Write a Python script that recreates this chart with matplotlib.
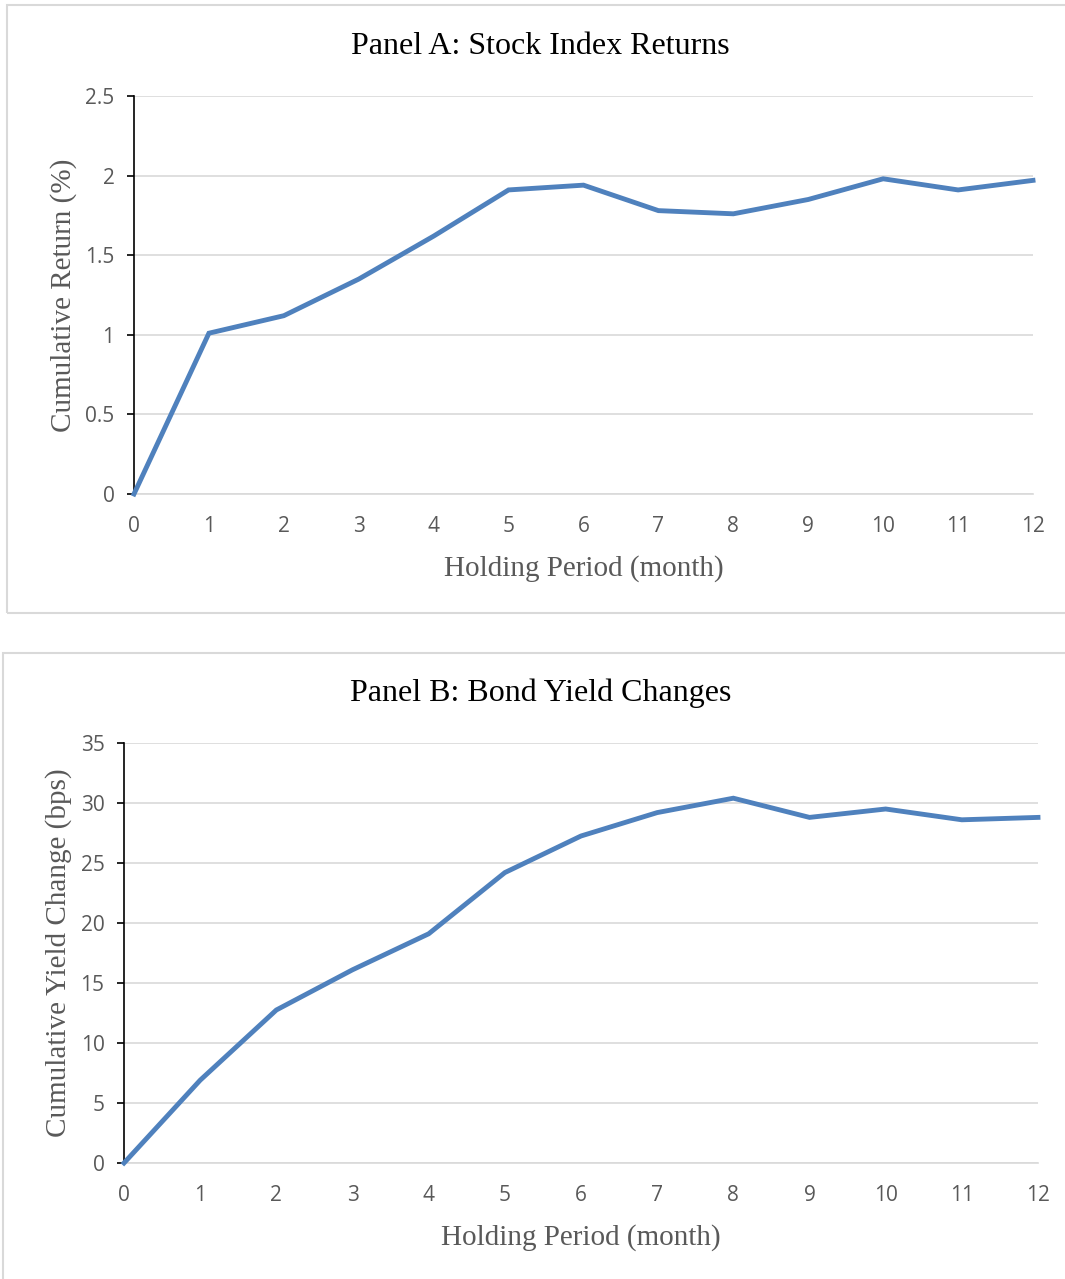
import matplotlib
matplotlib.use("Agg")
import matplotlib.pyplot as plt
from matplotlib.patches import Rectangle

months = list(range(13))
stock_returns = [0, 1.01, 1.12, 1.35, 1.62, 1.91, 1.94, 1.78, 1.76, 1.85, 1.98, 1.91, 1.97]
bond_changes = [0, 6.9, 12.75, 16.1, 19.1, 24.2, 27.25, 29.2, 30.4, 28.8, 29.5, 28.6, 28.8]
a_yticks = [0, 0.5, 1, 1.5, 2, 2.5]
a_yticklabels = ["0", "0.5", "1", "1.5", "2", "2.5"]
b_yticks = [0, 5, 10, 15, 20, 25, 30, 35]

W, H = 1065, 1279
fig = plt.figure(figsize=(W / 100, H / 100), dpi=100)

LINE = "#4F81BD"
GRID = "#D9D9D9"
TXT = "#595959"
SERIF = "Liberation Serif"
SANS = "Open Sans"

def fx(px):
    return px / W

def fy(py):
    return 1 - py / H

# panel boxes
for (x0, y0, x1, y1) in [(7, 5, 1070, 613), (3, 653, 1070, 1285)]:
    fig.patches.append(Rectangle((fx(x0), fy(y1)), fx(x1) - fx(x0), fy(y0) - fy(y1),
                                 transform=fig.transFigure, fill=False,
                                 edgecolor=GRID, linewidth=1.5, zorder=0))

def make_axes(l, r, t, b):
    return fig.add_axes([fx(l), fy(b), fx(r) - fx(l), fy(t) - fy(b)])

def style(ax, ymax):
    ax.set_xlim(0, 12)
    ax.set_ylim(0, ymax)
    ax.set_xticks(months)
    ax.grid(axis="y", color=GRID, linewidth=1.2)
    ax.set_axisbelow(True)
    for s in ["top", "right"]:
        ax.spines[s].set_visible(False)
    ax.spines["bottom"].set_color(GRID)
    ax.spines["bottom"].set_linewidth(1.2)
    ax.spines["left"].set_color("black")
    ax.spines["left"].set_linewidth(1.2)
    ax.tick_params(axis="x", length=0, pad=16, labelsize=15, labelcolor=TXT)
    ax.tick_params(axis="y", length=5, width=1.2, color="black", pad=9,
                   labelsize=15, labelcolor=TXT)
    for lab in ax.get_xticklabels() + ax.get_yticklabels():
        lab.set_fontfamily(SANS)

# Panel A
axA = make_axes(134, 1033, 96, 494)
axA.plot(months, stock_returns, color=LINE, linewidth=3.5, solid_joinstyle="miter",
         clip_on=False, zorder=3)
axA.set_yticks(a_yticks)
axA.set_yticklabels(a_yticklabels)
style(axA, 2.5)
axA.set_ylabel("Cumulative Return (%)", fontfamily=SERIF, fontsize=21, color=TXT, labelpad=6)
axA.set_xlabel("Holding Period (month)", fontfamily=SERIF, fontsize=21, color=TXT, labelpad=13)
fig.text(fx(540), fy(46), "Panel A: Stock Index Returns", fontfamily=SERIF, fontsize=23,
         color="black", ha="center", va="center")

# Panel B
axB = make_axes(124, 1038, 743, 1163)
axB.plot(months, bond_changes, color=LINE, linewidth=3.5, solid_joinstyle="miter",
         clip_on=False, zorder=3)
axB.set_yticks(b_yticks)
style(axB, 35)
axB.set_ylabel("Cumulative Yield Change (bps)", fontfamily=SERIF, fontsize=21, color=TXT, labelpad=6)
axB.set_xlabel("Holding Period (month)", fontfamily=SERIF, fontsize=21, color=TXT, labelpad=13)
fig.text(fx(541), fy(693), "Panel B: Bond Yield Changes", fontfamily=SERIF, fontsize=23,
         color="black", ha="center", va="center")

fig.savefig("out.png", dpi=100, facecolor="white")
